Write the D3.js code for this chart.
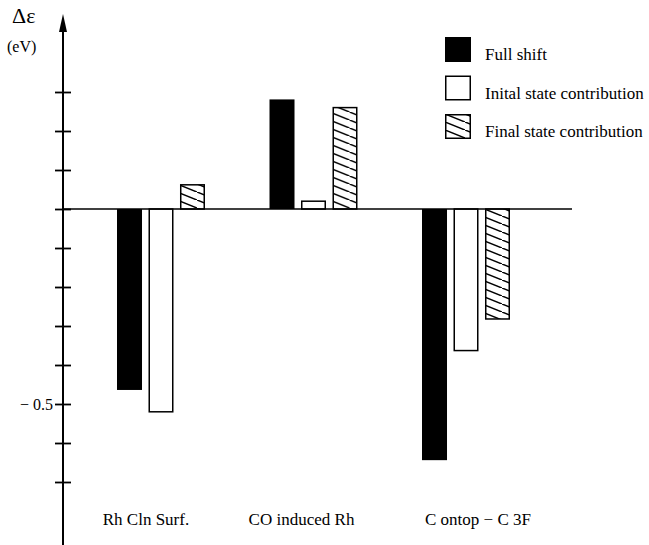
<!DOCTYPE html>
<html lang="en">
<head>
  <meta charset="UTF-8">
  <title>Core level shift contributions</title>
  <script src="https://d3js.org/d3.v7.min.js"></script>
  <style>
    body { margin: 0; background: #fff; }
    text { font-family: "Liberation Serif", "Times New Roman", "DejaVu Serif", serif; fill: #000; }
  </style>
</head>
<body>
<div id="chart-container"></div>
<script>
  // Data (eV)
  const categories = ['Rh Cln Surf.', 'CO induced Rh', 'C ontop \u2212 C 3F'];
  const seriesNames = ['Full shift', 'Inital state contribution', 'Final state contribution'];
  const fullShift = [-0.464, 0.281, -0.644];
  const initialState = [-0.52, 0.02, -0.363];
  const finalState = [0.062, 0.26, -0.282];
  const yTicks = [0.3, 0.2, 0.1, 0, -0.1, -0.2, -0.3, -0.4, -0.5, -0.6, -0.7];
  const yTickLabels = { '-0.5': '\u2212 0.5' };

  const series = [fullShift, initialState, finalState];

  const width = 649, height = 545;
  const axisX = 63;

  const svg = d3.select('#chart-container')
    .append('svg')
    .attr('width', width)
    .attr('height', height);

  // hatch pattern for final state bars
  const defs = svg.append('defs');
  defs.append('pattern')
    .attr('id', 'hatch')
    .attr('patternUnits', 'userSpaceOnUse')
    .attr('width', 20)
    .attr('height', 8)
    .call(p => {
      p.append('rect').attr('width', 20).attr('height', 8).attr('fill', '#fff');
      [[-20, -8], [0, 0], [20, 8]].forEach(([ox, oy]) => {
        p.append('line')
          .attr('x1', ox).attr('y1', oy).attr('x2', ox + 20).attr('y2', oy + 8)
          .attr('stroke', '#000').attr('stroke-width', 1.5);
      });
    });

  const fills = ['#000', '#fff', 'url(#hatch)'];

  // scales
  const y = d3.scaleLinear().domain([0, -0.5]).range([209, 404]);
  const x0 = d3.scaleBand().domain(categories).range([117, 510]).paddingInner(0.423);
  const x1 = d3.scaleBand().domain(d3.range(series.length)).range([0, x0.bandwidth()]).paddingInner(0.206);

  // bars
  const groups = svg.selectAll('g.group')
    .data(categories)
    .enter().append('g')
    .attr('class', 'group')
    .attr('transform', d => `translate(${x0(d)},0)`);

  groups.selectAll('rect')
    .data((c, ci) => series.map((s, si) => ({ si, v: s[ci] })))
    .enter().append('rect')
    .attr('x', d => x1(d.si) + (d.si === 0 ? 0 : 0.75))
    .attr('width', d => x1.bandwidth() - (d.si === 0 ? 0 : 1.5))
    .attr('y', d => Math.min(y(d.v), y(0)))
    .attr('height', d => Math.abs(y(d.v) - y(0)))
    .attr('fill', d => fills[d.si])
    .attr('stroke', d => d.si === 0 ? 'none' : '#000')
    .attr('stroke-width', 1.5);

  // zero line
  svg.append('line')
    .attr('x1', axisX).attr('x2', 572)
    .attr('y1', y(0)).attr('y2', y(0))
    .attr('stroke', '#000').attr('stroke-width', 1.5);

  // y axis with arrow
  svg.append('line')
    .attr('x1', axisX).attr('x2', axisX)
    .attr('y1', 24).attr('y2', height)
    .attr('stroke', '#000').attr('stroke-width', 2);
  svg.append('path')
    .attr('d', `M${axisX},14 L${axisX - 4},32 L${axisX + 4},32 Z`)
    .attr('fill', '#000');

  const yAxis = d3.axisLeft(y)
    .tickValues(yTicks)
    .tickSize(0)
    .tickFormat(d => yTickLabels[d.toFixed(1)] || '');
  const ga = svg.append('g')
    .attr('transform', `translate(${axisX},0)`)
    .call(yAxis);
  ga.select('.domain').remove();
  ga.selectAll('.tick text')
    .attr('x', -10)
    .attr('dy', '0.35em')
    .style('font-family', '"Liberation Serif", "Times New Roman", serif')
    .style('font-size', '16px')
    .attr('fill', '#000');
  ga.selectAll('.tick').append('line')
    .attr('x1', -8).attr('x2', 8)
    .attr('stroke', '#000').attr('stroke-width', 1.8);

  // axis title
  svg.append('text').attr('x', 12).attr('y', 23)
    .style('font-size', '22px').text('\u0394\u03b5');
  svg.append('text').attr('x', 7).attr('y', 52)
    .style('font-size', '16px').text('(eV)');

  // category labels
  const labelShift = [-15, -12, 12];
  svg.selectAll('text.cat')
    .data(categories)
    .enter().append('text')
    .attr('class', 'cat')
    .attr('x', (d, i) => x0(d) + x0.bandwidth() / 2 + labelShift[i])
    .attr('y', 525)
    .attr('text-anchor', 'middle')
    .style('font-size', '17px')
    .text(d => d);

  // legend
  const legend = svg.selectAll('g.legend')
    .data(seriesNames)
    .enter().append('g')
    .attr('class', 'legend')
    .attr('transform', (d, i) => `translate(445,${37 + i * 38.5})`);
  legend.append('rect')
    .attr('x', (d, i) => i === 0 ? 0 : 0.75)
    .attr('y', (d, i) => i === 0 ? 0 : 0.75)
    .attr('width', (d, i) => i === 0 ? 26 : 24.5)
    .attr('height', (d, i) => i === 0 ? 25 : 23.5)
    .attr('fill', (d, i) => fills[i])
    .attr('stroke', (d, i) => i === 0 ? 'none' : '#000')
    .attr('stroke-width', 1.5);
  legend.append('text')
    .attr('x', 40)
    .attr('y', 23)
    .style('font-size', '17px')
    .text(d => d);
</script>
</body>
</html>
